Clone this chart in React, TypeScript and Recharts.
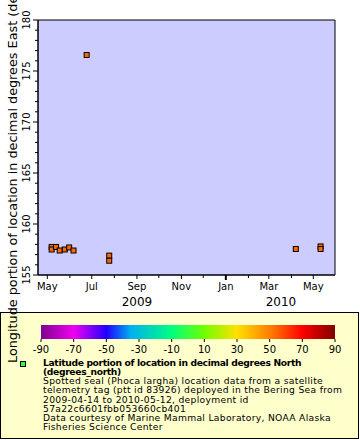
import React from 'react';
import { ScatterChart, Scatter, XAxis, YAxis, CartesianGrid, ReferenceArea } from 'recharts';

const FONT = '"DejaVu Sans", sans-serif';

// seal positions: date, longitude (deg E)
const dates = [
  '2009-05-07', '2009-05-07', '2009-05-13', '2009-05-18', '2009-05-25', '2009-05-31',
  '2009-06-06', '2009-06-24', '2009-07-25', '2009-07-25', '2010-04-07', '2010-05-11', '2010-05-11',
];
const longitudes = [157.75, 157.5, 157.75, 157.4, 157.5, 157.7, 157.4, 176.57, 156.9, 156.4, 157.55, 157.8, 157.55];

const monthTicks = [
  '2009-05-01', '2009-06-01', '2009-07-01', '2009-08-01', '2009-09-01', '2009-10-01', '2009-11-01',
  '2009-12-01', '2010-01-01', '2010-02-01', '2010-03-01', '2010-04-01', '2010-05-01',
];
const monthNames = ['Jan', 'Feb', 'Mar', 'Apr', 'May', 'Jun', 'Jul', 'Aug', 'Sep', 'Oct', 'Nov', 'Dec'];
const yearLabels = ['2009', '2010'];
const lonTicks = [155, 156, 157, 158, 159, 160, 161, 162, 163, 164, 165, 166, 167, 168, 169, 170, 171, 172, 173, 174, 175, 176, 177, 178, 179, 180];
const colorbarTicks = [-90, -70, -50, -30, -10, 10, 30, 50, 70, 90];
const colorbarStops = [
  { v: -90, c: '#800090' }, { v: -70, c: '#f000f0' }, { v: -50, c: '#2000ff' }, { v: -35, c: '#00b0f0' },
  { v: -10, c: '#00ff80' }, { v: 10, c: '#70ff00' }, { v: 30, c: '#ffe000' }, { v: 50, c: '#ff8000' },
  { v: 70, c: '#ff0000' }, { v: 90, c: '#800000' },
];

const legendTitle = ['Latitude portion of location in decimal degrees North', '(degrees_north)'];
const legendLines = [
  'Spotted seal (Phoca largha) location data from a satellite',
  'telemetry tag (ptt id 83926) deployed in the Bering Sea from',
  '2009-04-14 to 2010-05-12, deployment id',
  '57a22c6601fbb053660cb401',
  'Data courtesy of Marine Mammal Laboratory, NOAA Alaska',
  'Fisheries Science Center',
];

const toT = (s: string) => Date.parse(s + 'T00:00:00Z');
const data = dates.map((d, i) => ({ t: toT(d), lon: longitudes[i] }));
const xMin = Date.UTC(2009, 3, 18, 6);
const xMax = Date.UTC(2010, 4, 30, 19);

const XTick = (props: any) => {
  const { x, y, payload } = props;
  const d = new Date(payload.value);
  const m = d.getUTCMonth();
  const labeled = m % 2 === 0;
  const isJan = m === 0;
  const len = isJan ? 5 : labeled ? 4 : 3;
  return (
    <g>
      <line x1={x} x2={x} y1={y} y2={y + len} stroke="#000" strokeWidth={isJan ? 2 : 1} />
      {labeled && (
        <text x={x} y={y + 15} textAnchor="middle" fontSize={10} fontFamily={FONT} fill="#000">
          {monthNames[m]}
        </text>
      )}
    </g>
  );
};

const YTick = (props: any) => {
  const { x, y, payload } = props;
  const major = payload.value % 5 === 0;
  const len = major ? 5 : 3;
  return (
    <g>
      <line x1={x - len} x2={x} y1={y} y2={y} stroke="#000" />
      {major && (
        <text x={x - 8} y={y} transform={`rotate(-90, ${x - 8}, ${y})`} textAnchor="middle"
          fontSize={10} fontFamily={FONT} fill="#000">
          {payload.value}
        </text>
      )}
    </g>
  );
};

const SquareDot = (props: any) => {
  const { cx, cy } = props;
  return <rect x={cx - 2.5} y={cy - 2.5} width={5} height={5} fill="#ff6600" stroke="#000" strokeWidth={1} />;
};

const cbX0 = 41;
const cbX1 = 335;
const cbPos = (v: number) => cbX0 + ((v + 90) / 180) * (cbX1 - cbX0);

export default function App() {
  return (
    <div style={{ position: 'absolute', left: 0, top: 0, width: 360, height: 440, background: '#fff', overflow: 'hidden' }}>
      <ScatterChart width={360} height={440} margin={{ top: 20, right: 25, bottom: 135, left: 0 }}>
        <CartesianGrid fill="#ccccff" horizontal={false} vertical={false} />
        <XAxis
          type="number"
          dataKey="t"
          domain={[xMin, xMax]}
          ticks={monthTicks.map(toT)}
          tick={<XTick />}
          tickLine={false}
          tickSize={0}
          tickMargin={0}
          height={30}
          axisLine={{ stroke: '#000' }}
          interval={0}
          allowDataOverflow
        />
        <YAxis
          type="number"
          dataKey="lon"
          domain={[155, 180]}
          ticks={lonTicks}
          tick={<YTick />}
          tickLine={false}
          tickSize={0}
          tickMargin={0}
          width={38}
          axisLine={{ stroke: '#000' }}
          interval={0}
          allowDataOverflow
        />
        <ReferenceArea x1={xMin} x2={xMax} y1={155} y2={180} fill="none" stroke="#000" strokeWidth={1} />
        <Scatter data={data} shape={<SquareDot />} isAnimationActive={false} />
      </ScatterChart>
      <svg width={360} height={440} style={{ position: 'absolute', left: 0, top: 0, pointerEvents: 'none' }}>
        <defs>
          <linearGradient id="cb" x1="0" x2="1" y1="0" y2="0">
            {colorbarStops.map((s) => (
              <stop key={s.v} offset={`${((s.v + 90) / 180) * 100}%`} stopColor={s.c} />
            ))}
          </linearGradient>
        </defs>
        {yearLabels.map((yl, i) => (
          <text key={yl} x={i === 0 ? 137 : 281} y={306} textAnchor="middle" fontSize={12} fontFamily={FONT} fill="#000">
            {yl}
          </text>
        ))}
        <rect x={0.5} y={312.5} width={358} height={126} fill="#ffffcc" stroke="#000" />
        <rect x={cbX0} y={325} width={cbX1 - cbX0} height={14} fill="url(#cb)" />
        {colorbarTicks.map((v) => (
          <g key={v}>
            <line x1={cbPos(v)} x2={cbPos(v)} y1={339} y2={342} stroke="#000" />
            <text x={cbPos(v)} y={353} textAnchor="middle" fontSize={10} fontFamily={FONT} fill="#000">
              {v}
            </text>
          </g>
        ))}
        <rect x={20.5} y={361.5} width={5} height={5} fill="#33ff33" stroke="#000" />
        {legendTitle.map((l, i) => (
          <text key={l} x={43} y={366.3 + i * 9.05} fontSize={9.2} letterSpacing={-0.35} fontWeight="bold" fontFamily={FONT} fill="#000">
            {l}
          </text>
        ))}
        {legendLines.map((l, i) => (
          <text key={l} x={43} y={384.4 + i * 9.05} fontSize={9.2} letterSpacing={0.3} fontFamily={FONT} fill="#000">
            {l}
          </text>
        ))}
        <text x={17} y={363} transform="rotate(-90, 17, 363)" textAnchor="start" fontSize={12.8} fontFamily={FONT} fill="#000">
          Longitude portion of location in decimal degrees East (degrees_east)
        </text>
      </svg>
    </div>
  );
}
